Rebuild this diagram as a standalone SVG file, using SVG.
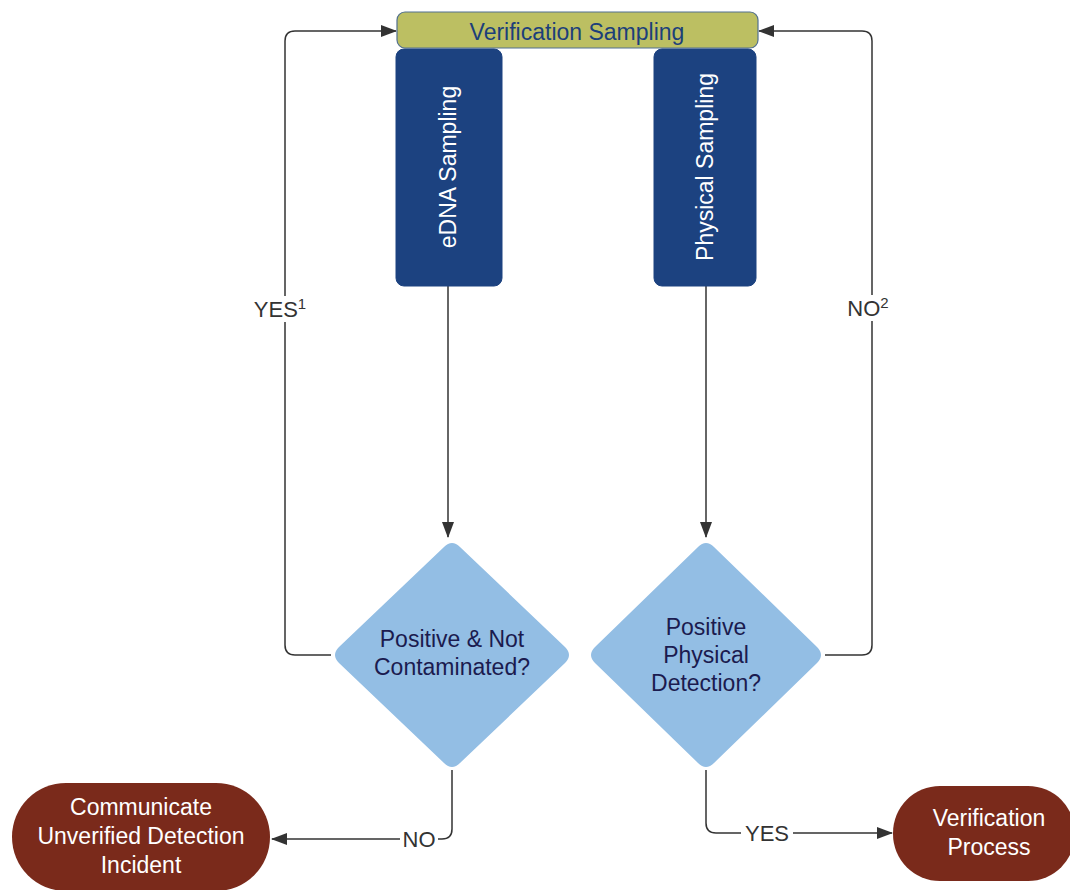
<svg xmlns="http://www.w3.org/2000/svg" width="1070" height="890" viewBox="0 0 1070 890">
<defs>
<marker id="arr" viewBox="0 0 16 12" refX="15" refY="6" markerWidth="16" markerHeight="12" markerUnits="userSpaceOnUse" orient="auto">
<path d="M0,0 L16,6 L0,12 Z" fill="#333333"/>
</marker>
<style>
.t{font-family:"Liberation Sans",Arial,sans-serif;font-size:23px;text-anchor:middle}
.w{fill:#ffffff}
.d{fill:#1b1b4f}
.lbl{font-family:"Liberation Sans",Arial,sans-serif;font-size:22px;fill:#333333;text-anchor:middle}
.c{fill:none;stroke:#333333;stroke-width:1.5}
.blue{fill:#1c4280;stroke:#1c4280}
.dia{fill:#93bee4}
.term{fill:#7a2a1b}
</style>
</defs>
<rect width="1070" height="890" fill="#ffffff"/>
<g id="connectors">
<path class="c" d="M448,286 V537" marker-end="url(#arr)"/>
<path class="c" d="M706,286 V537" marker-end="url(#arr)"/>
<path class="c" d="M331,655 H295 Q285,655 285,645 V41 Q285,31 295,31 H396" marker-end="url(#arr)"/>
<path class="c" d="M825,655 H862 Q872,655 872,645 V41 Q872,31 862,31 H759" marker-end="url(#arr)"/>
<path class="c" d="M452,770 V829 Q452,839 442,839 H272" marker-end="url(#arr)"/>
<path class="c" d="M706,770 V823 Q706,833 716,833 H892" marker-end="url(#arr)"/>
<rect x="252" y="296" width="62" height="26" fill="#ffffff"/>
<text class="lbl" x="280" y="317">YES<tspan font-size="15" dy="-8">1</tspan></text>
<rect x="846" y="295" width="52" height="26" fill="#ffffff"/>
<text class="lbl" x="868" y="316">NO<tspan font-size="15" dy="-8">2</tspan></text>
<rect x="400" y="827" width="38" height="24" fill="#ffffff"/>
<text class="lbl" x="419" y="847">NO</text>
<rect x="741" y="821" width="52" height="24" fill="#ffffff"/>
<text class="lbl" x="767" y="841">YES</text>
</g>
<g id="verification-sampling">
<rect x="397" y="12" width="361" height="36" rx="8" fill="#bcbf62" stroke="#52708f" stroke-width="1.2"/>
<text class="t" x="577" y="40" fill="#1c3f7a">Verification Sampling</text>
</g>
<g id="edna-sampling">
<rect class="blue" x="396" y="49" width="106" height="237" rx="8"/>
<text class="t w" transform="translate(456,167) rotate(-90)">eDNA Sampling</text>
</g>
<g id="physical-sampling">
<rect class="blue" x="654" y="49" width="102" height="237" rx="8"/>
<text class="t w" transform="translate(713,167) rotate(-90)">Physical Sampling</text>
</g>
<g id="decision-edna">
<path class="dia" d="M444,547 Q452,539 460,547 L565,647 Q573,655 565,663 L460,763 Q452,771 444,763 L339,663 Q331,655 339,647 Z"/>
<text class="t d" x="452" y="647">Positive &amp; Not</text>
<text class="t d" x="452" y="675">Contaminated?</text>
</g>
<g id="decision-physical">
<path class="dia" d="M698,547 Q706,539 714,547 L817,647 Q825,655 817,663 L714,763 Q706,771 698,763 L595,663 Q587,655 595,647 Z"/>
<text class="t d" x="706" y="635">Positive</text>
<text class="t d" x="706" y="663">Physical</text>
<text class="t d" x="706" y="691">Detection?</text>
</g>
<g id="communicate">
<rect class="term" x="12" y="783" width="258" height="108" rx="54"/>
<text class="t w" x="141" y="815">Communicate</text>
<text class="t w" x="141" y="844">Unverified Detection</text>
<text class="t w" x="141" y="873">Incident</text>
</g>
<g id="verification-process">
<rect class="term" x="893" y="786" width="182" height="95" rx="47"/>
<text class="t w" x="989" y="826">Verification</text>
<text class="t w" x="989" y="855">Process</text>
</g>
</svg>
